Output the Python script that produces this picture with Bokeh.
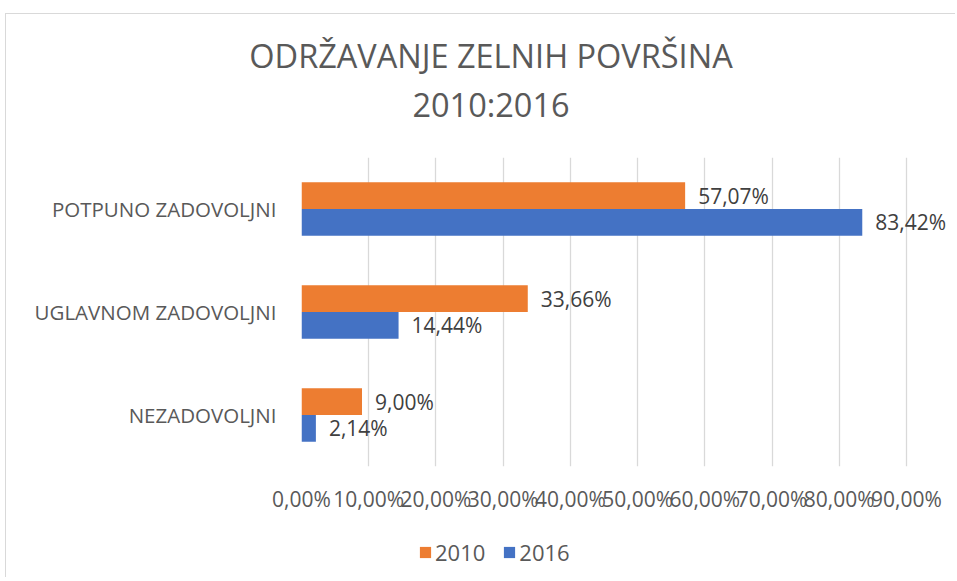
from bokeh.plotting import figure
from bokeh.layouts import column
from bokeh.models import (FactorRange, Range1d, FixedTicker, CustomJSTickFormatter,
                          ColumnDataSource, LabelSet, Legend, LegendItem, Div)
from bokeh.transform import dodge
from bokeh.core.properties import value
from bokeh.embed import file_html
from bokeh.resources import INLINE

# ---- data ----
categories = ["POTPUNO ZADOVOLJNI", "UGLAVNOM ZADOVOLJNI", "NEZADOVOLJNI"]
series_names = ["2010", "2016"]
values_2010 = [57.07, 33.66, 9.00]
values_2016 = [83.42, 14.44, 2.14]
x_ticks = [0, 10, 20, 30, 40, 50, 60, 70, 80, 90]
title_lines = ["ODRŽAVANJE ZELNIH POVRŠINA", "2010:2016"]

ORANGE = "#ED7D31"
BLUE = "#4472C4"
GREY = "#595959"
FONT = "Open Sans"

# ---- layout (pixels) ----
W = 949
T_H, M_H, L_H = 143, 372, 48          # title strip, chart, legend strip
FRAME_L, FRAME_H = 295, 309
GRID_W = 605                           # pixel width of the 0..90 span
x_end = x_ticks[-1] * (W - FRAME_L) / GRID_W


def fmt(v):
    return f"{v:.2f}".replace(".", ",") + "%"


# ---- title ----
line_style = ("position:absolute; left:485px; transform:translate(-50%,-50%); "
              "white-space:nowrap; top:{}px;")
title_html = (
    f'<div style="position:relative; width:{W}px; height:{T_H}px; '
    f"font-family:'{FONT}'; font-size:32.5px; color:{GREY}; line-height:1.3;\">"
    f'<div style="{line_style.format(42)}">{title_lines[0]}</div>'
    f'<div style="{line_style.format(90.5)}">{title_lines[1]}</div>'
    '</div>'
)
p_title = Div(text=title_html, width=W, height=T_H, margin=0)

# ---- chart ----
src = ColumnDataSource(dict(
    cat=categories,
    v2010=values_2010,
    v2016=values_2016,
    l2010=[fmt(v) for v in values_2010],
    l2016=[fmt(v) for v in values_2016],
))

p = figure(width=W, height=M_H,
           y_range=FactorRange(factors=categories[::-1]),
           x_range=Range1d(0, x_end),
           output_backend="svg", toolbar_location=None,
           min_border_left=FRAME_L, min_border_right=0,
           min_border_top=0, min_border_bottom=M_H - FRAME_H)
p.outline_line_color = None
p.background_fill_color = "white"
p.border_fill_color = "white"

p.hbar(y=dodge("cat", 0.13, range=p.y_range), left=0, right="v2010", height=0.26,
       fill_color=ORANGE, line_color=None, source=src)
p.hbar(y=dodge("cat", -0.13, range=p.y_range), left=0, right="v2016", height=0.26,
       fill_color=BLUE, line_color=None, source=src)

for col_v, col_l, off in (("v2010", "l2010", 0.13), ("v2016", "l2016", -0.13)):
    p.add_layout(LabelSet(x=col_v, y=dodge("cat", off, range=p.y_range), text=col_l,
                          source=src, x_offset=13, text_baseline="middle",
                          text_font=value(FONT), text_font_size="21px",
                          text_color="#404040"))

p.xaxis.ticker = FixedTicker(ticks=x_ticks)
p.xaxis.formatter = CustomJSTickFormatter(code="return tick.toFixed(2).replace('.', ',') + '%';")
p.xaxis.axis_line_color = None
p.xaxis.major_tick_line_color = None
p.xaxis.minor_tick_line_color = None
p.xaxis.major_label_text_font = FONT
p.xaxis.major_label_text_font_size = "21px"
p.xaxis.major_label_text_color = GREY
p.xaxis.major_label_standoff = 12

p.yaxis.axis_line_color = None
p.yaxis.major_tick_line_color = None
p.yaxis.minor_tick_line_color = None
p.yaxis.major_label_text_font = FONT
p.yaxis.major_label_text_font_size = "20.5px"
p.yaxis.major_label_text_color = GREY
p.yaxis.major_label_standoff = 19

p.xgrid.ticker = FixedTicker(ticks=x_ticks)
p.xgrid.grid_line_color = "#D9D9D9"
p.xgrid.grid_line_width = 1.3
p.ygrid.visible = False

# ---- legend strip (its frame is aligned with the chart frame by the column) ----
p_leg = figure(width=W, height=L_H, x_range=Range1d(0, 1), y_range=Range1d(0, 1),
               x_axis_type=None, y_axis_type=None, output_backend="svg",
               toolbar_location=None, min_border=0)
p_leg.outline_line_color = None
p_leg.background_fill_color = "white"
p_leg.border_fill_color = "white"
proxy = ColumnDataSource(dict(y=[0.0], right=[0.0]))   # zero-width legend proxies
k1 = p_leg.hbar(y="y", right="right", height=0, fill_color=ORANGE, line_color=None, source=proxy)
k2 = p_leg.hbar(y="y", right="right", height=0, fill_color=BLUE, line_color=None, source=proxy)
legend = Legend(items=[LegendItem(label=series_names[0], renderers=[k1]),
                       LegendItem(label=series_names[1], renderers=[k2])],
                orientation="horizontal", location=(117, 10),
                glyph_width=14, glyph_height=14, label_standoff=3, spacing=17,
                padding=0, margin=0, border_line_color=None, background_fill_alpha=0,
                label_text_font=FONT, label_text_font_size="22px", label_text_color=GREY)
p_leg.add_layout(legend)

page = column(p_title, p, p_leg, spacing=0)
page.styles = {"margin-left": "5px", "margin-top": "13px",
               "border-left": "1px solid #D9D9D9", "border-top": "1px solid #D9D9D9"}

open("out.html", "w").write(file_html(page, INLINE))
